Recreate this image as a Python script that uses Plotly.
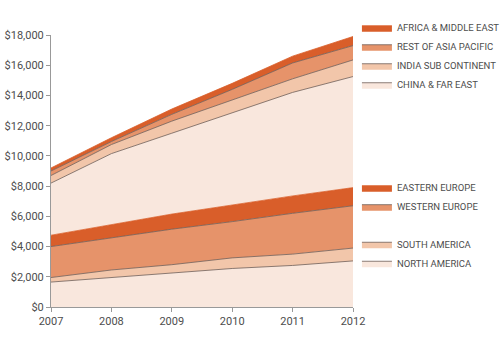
import plotly.graph_objects as go

years = [2007, 2008, 2009, 2010, 2011, 2012]
north_america = [1650, 1950, 2250, 2550, 2750, 3050]
south_america = [300, 500, 550, 700, 750, 850]
western_europe = [2050, 2100, 2350, 2400, 2700, 2800]
eastern_europe = [750, 900, 1000, 1100, 1150, 1200]
china_far_east = [3450, 4700, 5350, 6100, 6850, 7350]
india_sub = [500, 600, 800, 850, 900, 1100]
rest_asia_pacific = [300, 200, 450, 700, 1050, 950]
africa_middle_east = [200, 250, 350, 400, 450, 600]

y_tick_values = list(range(0, 18001, 2000))
y_tick_labels = ["$0", "$2,000", "$4,000", "$6,000", "$8,000", "$10,000",
                 "$12,000", "$14,000", "$16,000", "$18,000"]

C_DARK = "#D95E2A"
C_MID = "#E6936A"
C_LIGHT = "#F2C6AA"
C_PALE = "#F9E7DD"
LINE = "#6e5e58"
FONT = "Roboto, sans-serif"
TXT = "#4d4d4d"

series = [
    ("NORTH AMERICA", north_america, C_PALE, LINE, "legend3"),
    ("SOUTH AMERICA", south_america, C_LIGHT, LINE, "legend3"),
    ("WESTERN EUROPE", western_europe, C_MID, LINE, "legend2"),
    ("EASTERN EUROPE", eastern_europe, C_DARK, C_DARK, "legend2"),
    ("CHINA & FAR EAST", china_far_east, C_PALE, LINE, "legend"),
    ("INDIA SUB CONTINENT", india_sub, C_LIGHT, LINE, "legend"),
    ("REST OF ASIA PACIFIC", rest_asia_pacific, C_MID, LINE, "legend"),
    ("AFRICA & MIDDLE EAST", africa_middle_east, C_DARK, C_DARK, "legend"),
]

fig = go.Figure()
for name, vals, fillc, linec, leg in series:
    fig.add_trace(go.Scatter(
        x=years, y=vals, name=name, mode="lines", stackgroup="one",
        fillcolor=fillc, line=dict(color=linec, width=0.8),
        legend=leg,
    ))

legend_common = dict(
    traceorder="reversed", bgcolor="rgba(0,0,0,0)",
    font=dict(family=FONT, size=9.5, color=TXT),
    itemwidth=30, xanchor="left", yanchor="top", tracegroupgap=0,
)

fig.update_layout(
    width=500, height=350,
    margin=dict(l=51, r=147, t=35, b=43, autoexpand=False),
    paper_bgcolor="white", plot_bgcolor="white",
    font=dict(family=FONT, size=11, color=TXT),
    showlegend=True,
    legend=dict(x=1.013, y=1.08, **legend_common),
    legend2=dict(x=1.013, y=0.492, **legend_common),
    legend3=dict(x=1.013, y=0.284, **legend_common),
    xaxis=dict(
        range=[2007, 2012], tickvals=years, ticktext=[str(y) for y in years],
        showgrid=False, zeroline=False, showline=True, linecolor="#999999",
        linewidth=1, ticks="outside", ticklen=4, tickcolor="#999999",
        tickfont=dict(family=FONT, size=11, color=TXT),
    ),
    yaxis=dict(
        range=[0, 18000], tickvals=y_tick_values, ticktext=y_tick_labels,
        showgrid=False, zeroline=False, showline=True, linecolor="#999999",
        linewidth=1, ticks="outside", ticklen=4, tickcolor="#999999",
        tickfont=dict(family=FONT, size=11, color=TXT),
    ),
)

fig.write_html("out.html")
